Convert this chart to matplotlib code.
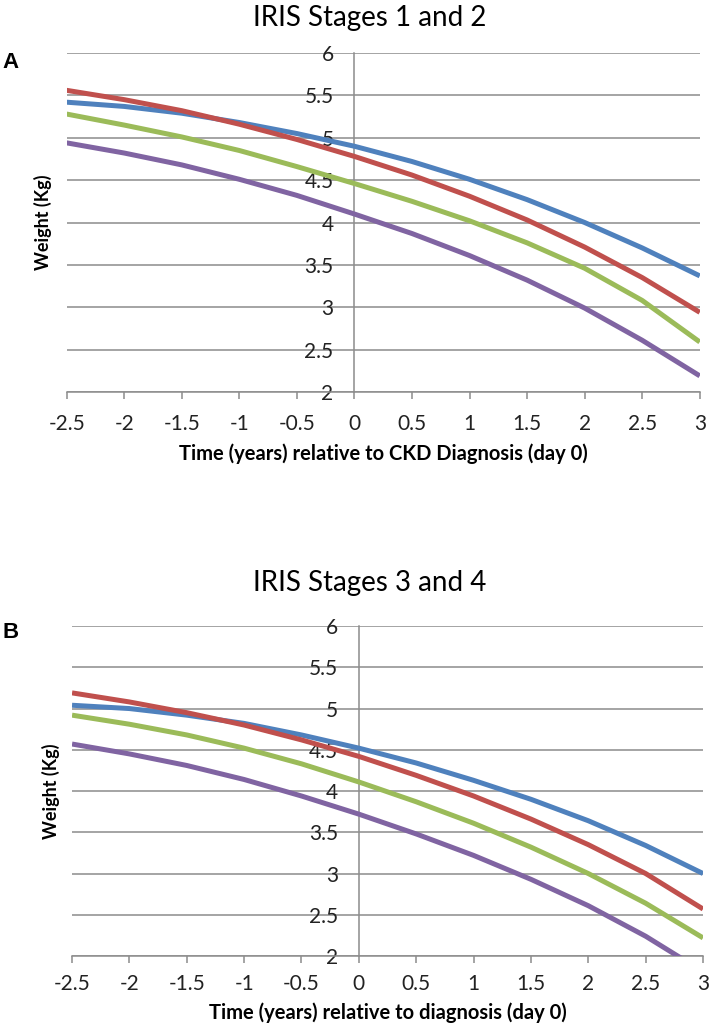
import matplotlib
matplotlib.use("Agg")
import matplotlib.pyplot as plt

plt.rcParams['font.family'] = ['Lato', 'DejaVu Sans']

# time relative to diagnosis (years)
temps = [-2.5, -2, -1.5, -1, -0.5, 0, 0.5, 1, 1.5, 2, 2.5, 3]

# panel A - IRIS stages 1 and 2
bleu_a = [5.42, 5.37, 5.29, 5.18, 5.05, 4.90, 4.72, 4.51, 4.27, 4.00, 3.70, 3.37]
rouge_a = [5.56, 5.45, 5.32, 5.16, 4.98, 4.78, 4.56, 4.31, 4.03, 3.71, 3.35, 2.94]
vert_a = [5.28, 5.15, 5.01, 4.85, 4.66, 4.46, 4.25, 4.02, 3.76, 3.46, 3.08, 2.59]
violet_a = [4.94, 4.82, 4.68, 4.51, 4.32, 4.10, 3.87, 3.61, 3.32, 2.99, 2.61, 2.19]

# panel B - IRIS stages 3 and 4
bleu_b = [5.04, 5.00, 4.92, 4.82, 4.68, 4.52, 4.34, 4.13, 3.90, 3.64, 3.34, 3.00]
rouge_b = [5.19, 5.08, 4.95, 4.80, 4.62, 4.42, 4.19, 3.94, 3.66, 3.35, 3.00, 2.57]
vert_b = [4.92, 4.81, 4.68, 4.52, 4.33, 4.11, 3.87, 3.61, 3.32, 3.00, 2.64, 2.22]
violet_b = [4.57, 4.45, 4.31, 4.14, 3.94, 3.72, 3.48, 3.22, 2.93, 2.61, 2.24, 1.81]

yticks = [2, 2.5, 3, 3.5, 4, 4.5, 5, 5.5, 6]
ytick_labels = ['2', '2.5', '3', '3.5', '4', '4.5', '5', '5.5', '6']
xtick_labels = ['-2.5', '-2', '-1.5', '-1', '-0.5', '0', '0.5', '1', '1.5', '2', '2.5', '3']

couleurs = ['#4F81BD', '#C0504D', '#9BBB59', '#8064A2']
gris = '#8C8C8C'

fig = plt.figure(figsize=(7.09, 10.28), dpi=100)

ax_a = fig.add_axes([0.094, 0.6187, 0.893, 0.3297])
ax_b = fig.add_axes([0.1016, 0.070, 0.890, 0.321])

panneaux = [
    (ax_a, [bleu_a, rouge_a, vert_a, violet_a], 'Time (years) relative to CKD Diagnosis (day 0)', 11, 7),
    (ax_b, [bleu_b, rouge_b, vert_b, violet_b], 'Time (years) relative to diagnosis (day 0)', 8, 6),
]

for ax, series, xlabel, xpad, lpad in panneaux:
    for serie, c in zip(series, couleurs):
        ax.plot(temps, serie, color=c, lw=3.6, solid_capstyle='butt', zorder=3)
    ax.set_xlim(-2.5, 3)
    ax.set_ylim(2, 6)
    ax.set_xticks(temps)
    ax.set_xticklabels(xtick_labels)
    ax.set_yticks(yticks)
    ax.set_yticklabels(ytick_labels)
    ax.grid(axis='y', color=gris, lw=1.1, zorder=0)
    ax.set_axisbelow(True)
    ax.spines['top'].set_visible(False)
    ax.spines['right'].set_visible(False)
    ax.spines['left'].set_position(('data', 0))
    ax.spines['left'].set_color(gris)
    ax.spines['left'].set_linewidth(1.1)
    ax.spines['bottom'].set_color(gris)
    ax.spines['bottom'].set_linewidth(1.1)
    ax.tick_params(axis='x', direction='out', length=5, width=1.1, color=gris,
                   pad=xpad, labelsize=15, labelcolor='#222222')
    ax.tick_params(axis='y', length=0, pad=15, labelsize=15, labelcolor='#222222')
    ax.set_xlabel(xlabel, fontsize=14.5, fontweight='bold', labelpad=lpad)

ax_a.set_ylabel('Weight (Kg)', fontsize=13, fontweight='bold')
ax_a.yaxis.set_label_coords(-0.023, 0.5)
ax_b.set_ylabel('Weight (Kg)', fontsize=13, fontweight='bold')
ax_b.yaxis.set_label_coords(-0.019, 0.5)

fig.text(0.522, 1 - 18 / 1028, 'IRIS Stages 1 and 2', ha='center', va='center', fontsize=20)
fig.text(0.522, 1 - 583 / 1028, 'IRIS Stages 3 and 4', ha='center', va='center', fontsize=20)
fig.text(0.003, 1 - 62 / 1028, 'A', ha='left', va='center', fontsize=16, fontweight='bold',
         family=['Liberation Sans', 'DejaVu Sans'])
fig.text(0.003, 1 - 632 / 1028, 'B', ha='left', va='center', fontsize=16, fontweight='bold',
         family=['Liberation Sans', 'DejaVu Sans'])

fig.savefig('out.png', dpi=100)
